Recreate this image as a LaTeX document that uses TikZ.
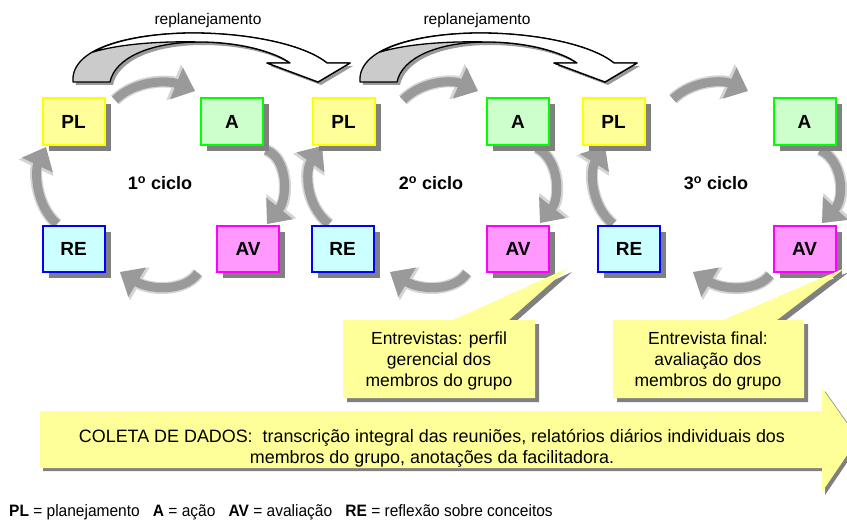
\documentclass[tikz,border=0pt]{standalone}
\usepackage{fontspec}
\setmainfont{Liberation Sans}
\usetikzlibrary{arrows.meta}
\definecolor{plfill}{HTML}{FFFF99}
\definecolor{plborder}{HTML}{FFFF00}
\definecolor{afill}{HTML}{CCFFCC}
\definecolor{aborder}{HTML}{00FF00}
\definecolor{refill}{HTML}{CCFFFF}
\definecolor{reborder}{HTML}{0000FF}
\definecolor{avfill}{HTML}{FF99FF}
\definecolor{avborder}{HTML}{FF00FF}
\definecolor{shadowgray}{HTML}{808080}
\definecolor{arrgray}{HTML}{9A9A9A}
\definecolor{arredge}{HTML}{D4D4D4}
\definecolor{callfill}{HTML}{FFFF99}
\definecolor{replgray}{HTML}{CBCBCB}
\tikzset{
  stepbox/.style={minimum width=62pt, minimum height=46pt, line width=2pt, inner sep=0pt,
     font=\fontsize{19}{20}\selectfont\bfseries,
     preaction={fill=shadowgray, draw=none, transform canvas={shift={(6pt,-6pt)}}}},
  plbox/.style={stepbox, fill=plfill, draw=plborder},
  abox/.style={stepbox, fill=afill, draw=aborder},
  rebox/.style={stepbox, fill=refill, draw=reborder},
  avbox/.style={stepbox, fill=avfill, draw=avborder},
  gedge/.style={line width=12pt, draw=arredge, -{Triangle[width=37pt,length=23pt]}},
  garrow/.style={line width=9pt, draw=arrgray, -{Triangle[width=33pt,length=20pt]}},
  cyclelabel/.style={font=\fontsize{18}{20}\selectfont\bfseries},
  repllabel/.style={font=\fontsize{15.5}{18}\selectfont},
  calltext/.style={align=center, font=\fontsize{17.5}{21}\selectfont},
  replan/.pic={
    \fill[shadowgray!80] [shift={(3,3)}] (73,82) .. controls (70,45) and (140,33) .. (193,33) .. controls (250,33) and (305,45) .. (327,63) -- (350,63) -- (318,82) -- (267,63) -- (290,63) .. controls (275,52) and (240,42) .. (200,42) .. controls (150,42) and (115,58) .. (110,82) -- cycle;
    \draw[fill=replgray, line width=1.3pt, line join=round] (73,82) .. controls (70,45) and (140,33) .. (193,33) .. controls (250,33) and (305,45) .. (327,63) -- (350,63) -- (318,82) -- (267,63) -- (290,63) .. controls (275,52) and (240,42) .. (200,42) .. controls (150,42) and (115,58) .. (110,82) -- cycle;
    \draw[fill=white, line width=1.3pt, line join=round] (93,52) .. controls (118,38) and (160,33) .. (193,33) .. controls (250,33) and (305,45) .. (327,63) -- (350,63) -- (318,82) -- (267,63) -- (290,63) .. controls (275,52) and (240,42) .. (200,42) .. controls (160,41) and (120,44) .. (93,52) -- cycle;
  }
}
\newcommand\grayarrow[4]{%
  \draw[gedge] #1 .. controls #2 and #3 .. #4;
  \draw[garrow] #1 .. controls #2 and #3 .. #4;}
\begin{document}
\begin{tikzpicture}[x=1pt, y=-1pt]
\useasboundingbox (0,0) rectangle (847,527);

% replanejamento arrows
\pic (rp1) at (0,0) {replan};
\pic (rp2) at (287,0) {replan};
\node[repllabel] (rl1) at (208,20) {replanejamento};
\node[repllabel] (rl2) at (477,20) {replanejamento};

% arrow end coordinates
\coordinate (c1ts) at (115,100); \coordinate (c1te) at (195,91);
\coordinate (c1rs) at (266,150); \coordinate (c1re) at (267,224);
\coordinate (c1bs) at (198,273); \coordinate (c1be) at (120,272);
\coordinate (c1ls) at (57,224);  \coordinate (c1le) at (46,147);
\coordinate (c2ts) at (403,100); \coordinate (c2te) at (478,91);
\coordinate (c2rs) at (537,148); \coordinate (c2re) at (540,223);
\coordinate (c2bs) at (467,273); \coordinate (c2be) at (390,272);
\coordinate (c2ls) at (329,224); \coordinate (c2le) at (322,146);
\coordinate (c3ts) at (673,99);  \coordinate (c3te) at (748,91);
\coordinate (c3rs) at (820,150); \coordinate (c3re) at (822,223);
\coordinate (c3bs) at (770,275); \coordinate (c3be) at (693,272);
\coordinate (c3ls) at (613,224); \coordinate (c3le) at (605,146);

% gray cycle arrows
\grayarrow{(c1ts)}{(135,80)}{(168,80)}{(c1te)}
\grayarrow{(c1rs)}{(288,158)}{(288,198)}{(c1re)}
\grayarrow{(c1bs)}{(185,292)}{(150,290)}{(c1be)}
\grayarrow{(c1ls)}{(35,205)}{(35,170)}{(c1le)}
\grayarrow{(c2ts)}{(423,80)}{(453,80)}{(c2te)}
\grayarrow{(c2rs)}{(560,160)}{(560,198)}{(c2re)}
\grayarrow{(c2bs)}{(454,292)}{(420,290)}{(c2be)}
\grayarrow{(c2ls)}{(305,205)}{(305,170)}{(c2le)}
\grayarrow{(c3ts)}{(693,80)}{(723,80)}{(c3te)}
\grayarrow{(c3rs)}{(843,160)}{(845,198)}{(c3re)}
\grayarrow{(c3bs)}{(757,292)}{(723,290)}{(c3be)}
\grayarrow{(c3ls)}{(590,205)}{(590,170)}{(c3le)}

% boxes
\node[plbox] (pl1) at (73.5,121.5) {PL};
\node[abox]  (a1)  at (232,121.5) {A};
\node[rebox] (re1) at (73.5,248.5) {RE};
\node[avbox] (av1) at (248,248.5) {AV};
\node[plbox] (pl2) at (343.5,121.5) {PL};
\node[abox]  (a2)  at (518,121.5) {A};
\node[rebox] (re2) at (342.5,248.5) {RE};
\node[avbox] (av2) at (518,248.5) {AV};
\node[plbox] (pl3) at (613.5,121.5) {PL};
\node[abox]  (a3)  at (804.5,121.5) {A};
\node[rebox] (re3) at (629,248.5) {RE};
\node[avbox] (av3) at (804.5,248.5) {AV};

\node[cyclelabel] (cy1) at (160,183) {1\textsuperscript{o} ciclo};
\node[cyclelabel] (cy2) at (431,183) {2\textsuperscript{o} ciclo};
\node[cyclelabel] (cy3) at (716,183) {3\textsuperscript{o} ciclo};

% callouts
\fill[shadowgray] [shift={(4,4)}] (343,320) -- (453,320) -- (568,268) -- (509,320) -- (535,320) -- (535,398) -- (343,398) -- cycle;
\fill[callfill] (343,320) -- (453,320) -- (568,268) -- (509,320) -- (535,320) -- (535,398) -- (343,398) -- cycle;
\fill[shadowgray] [shift={(4,4)}] (613,320) -- (723,320) -- (845,268) -- (777,320) -- (804,320) -- (804,398) -- (613,398) -- cycle;
\fill[callfill] (613,320) -- (723,320) -- (845,268) -- (777,320) -- (804,320) -- (804,398) -- (613,398) -- cycle;
\node[calltext] (ct1) at (439,361) {Entrevistas: perfil\\gerencial dos\\membros do grupo};
\node[calltext] (ct2) at (708,361) {Entrevista final:\\avaliação dos\\membros do grupo};

% data collection arrow
\fill[shadowgray] [shift={(3,3)}] (40,411) -- (822,411) -- (822,388) -- (858,439) -- (822,492) -- (822,468) -- (40,468) -- cycle;
\fill[callfill] (40,411) -- (822,411) -- (822,388) -- (858,439) -- (822,492) -- (822,468) -- (40,468) -- cycle;
\node[calltext, font=\fontsize{17.9}{21}\selectfont] (coleta) at (432,448) {COLETA DE DADOS:\ \ transcrição integral das reuniões, relatórios diários individuais dos\\membros do grupo, anotações da facilitadora.};

% legend
\node[anchor=west, inner sep=0pt, font=\fontsize{16.5}{18}\selectfont] (legend) at (9,512)
  {\scalebox{0.94}[1]{\textbf{PL} = planejamento\hspace{14pt}\textbf{A} = ação\hspace{14pt}\textbf{AV} = avaliação\hspace{14pt}\textbf{RE} = reflexão sobre conceitos}};
\end{tikzpicture}
\end{document}
